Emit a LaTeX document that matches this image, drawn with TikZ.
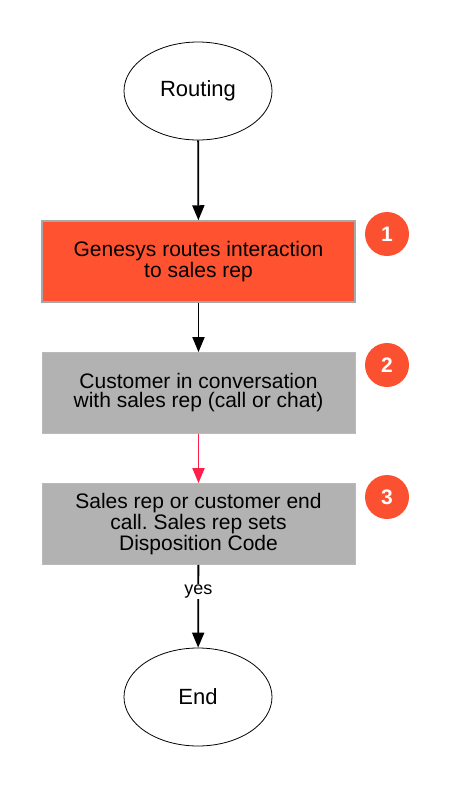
\documentclass[tikz,border=0pt]{standalone}
\usepackage{fontspec}
\setmainfont{Liberation Sans}
\usetikzlibrary{shapes.geometric,arrows.meta}
\definecolor{orng}{HTML}{FF5230}
\definecolor{badgec}{HTML}{FC5130}
\definecolor{boxgray}{HTML}{B2B2B2}
\definecolor{edgegray}{HTML}{A8A8A8}
\definecolor{redarr}{HTML}{FF1F4B}
\begin{document}
\frenchspacing
\begin{tikzpicture}[x=1pt,y=-1pt,
  term/.style={ellipse,draw=black,line width=0.8pt,minimum width=148pt,minimum height=98pt,inner sep=0pt,font=\fontsize{22}{24}\selectfont},
  stepbox/.style={rectangle,minimum width=313pt,minimum height=81pt,inner sep=0pt,align=center,font=\fontsize{21}{19}\selectfont\frenchspacing},
  badge/.style={circle,fill=badgec,minimum size=44pt,inner sep=0pt,text=white,font=\fontsize{21}{21}\selectfont\bfseries},
  arr/.style={line width=1.8pt,-{Triangle[length=15pt,width=12pt]}}]
\useasboundingbox (0,0) rectangle (450,788);
\node[term] (routing) at (198,91) {Routing};
\node[stepbox,fill=orng,draw=edgegray,line width=1.5pt] (b1) at (198.5,261.5) {Genesys routes interaction\\to sales rep};
\node[stepbox,fill=boxgray,draw=boxgray!90!white,line width=0.8pt] (b2) at (198.5,393) {Customer in conversation\\with sales rep (call or chat)};
\node[stepbox,fill=boxgray,draw=boxgray!90!white,line width=0.8pt] (b3) at (198.5,524) {Sales rep or customer end\\call. Sales rep sets\\Disposition Code};
\node[term] (end) at (198,697) {End};
\node[badge] (n1) at (387,234) {1};
\node[badge] (n2) at (387,365) {2};
\node[badge] (n3) at (387,497) {3};
\draw[arr] (routing) -- (b1);
\draw[arr] (b1) -- (b2);
\draw[arr,draw=redarr,fill=redarr] (b2) -- (b3);
\draw[arr] (b3) -- node[pos=0.32,fill=white,inner sep=1pt,font=\fontsize{18}{18}\selectfont] (yes) {yes} (end);
\end{tikzpicture}
\end{document}
